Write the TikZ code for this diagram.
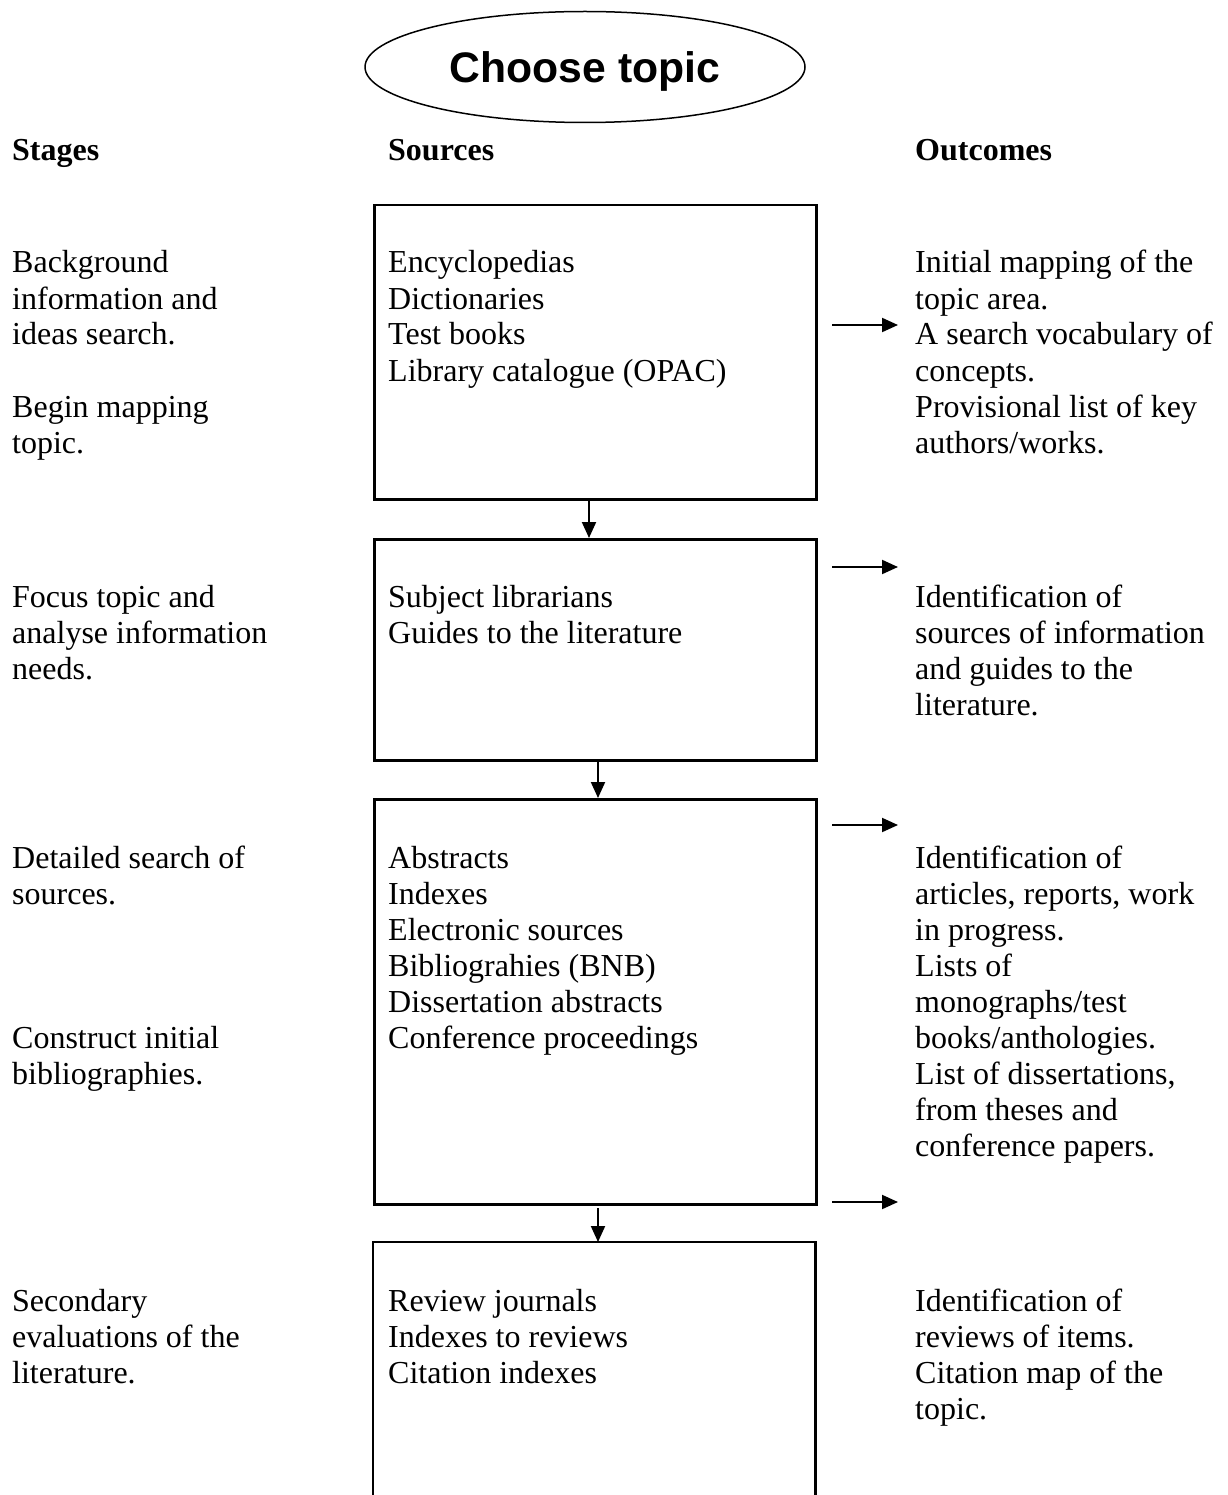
\documentclass[tikz,border=0pt]{standalone}
\usepackage{fontspec}
\setmainfont{Liberation Serif}
\newfontfamily\titlefont{Liberation Sans}
\usetikzlibrary{shapes.geometric,arrows.meta}
\newcommand\tx[1]{\begin{tabular}[t]{@{}l@{}}#1\end{tabular}}
\begin{document}
\begin{tikzpicture}[x=1pt,y=-1pt,
  txt/.style={anchor=base west,inner sep=0pt,yshift=-3pt,font=\fontsize{32pt}{36pt}\selectfont},
  hdr/.style={txt,font=\fontsize{32pt}{36pt}\selectfont\bfseries},
  srcbox/.style={draw,line width=2.5pt,rectangle,anchor=north west,inner sep=0pt,minimum width=442pt},
  arr/.style={line width=2pt,-{Triangle[length=16pt,width=14pt]}}
]
\useasboundingbox[fill=white] (0,0) rectangle (1227,1495);

% title
\node[ellipse,draw,line width=1.5pt,inner sep=0pt,minimum width=440pt,minimum height=111pt,
      text height=30.6pt,text depth=0pt,font=\titlefont\fontsize{42.7pt}{48pt}\selectfont\bfseries]
  (title) at (585,67) {Choose topic};

% headers
\node[hdr] (hstages) at (12,158) {Stages};
\node[hdr] (hsources) at (388,158) {Sources};
\node[hdr] (houtcomes) at (915,158) {Outcomes};

% boxes
\node[srcbox,minimum height=294pt] (b1) at (373,204) {};
\node[srcbox,minimum height=221pt] (b2) at (373,538) {};
\node[srcbox,minimum height=405pt] (b3) at (373,798) {};
\node[draw=none,rectangle,anchor=north west,inner sep=0pt,minimum width=442pt,minimum height=253pt] (b4) at (373,1242) {};
\draw[line width=2.5pt] (b4.south west) -- (b4.north west) -- (b4.north east) -- (b4.south east);

% down arrows
\coordinate (c1) at (589,0);
\coordinate (c2) at (598,0);
\coordinate (c3s) at (598,1208);
\draw[arr] (b1.south -| c1) -- (b2.north -| c1);
\draw[arr] (b2.south -| c2) -- (b3.north -| c2);
\draw[arr] (c3s) -- (b4.north -| c3s);

% right arrows
\coordinate (r1s) at (832,325); \coordinate (r1e) at (898,325);
\coordinate (r2s) at (832,567); \coordinate (r2e) at (898,567);
\coordinate (r3s) at (832,825); \coordinate (r3e) at (898,825);
\coordinate (r4s) at (832,1202); \coordinate (r4e) at (898,1202);
\draw[arr] (r1s) -- (r1e);
\draw[arr] (r2s) -- (r2e);
\draw[arr] (r3s) -- (r3e);
\draw[arr] (r4s) -- (r4e);

% stages
\node[txt] (s1) at (12,270) {\tx{Background\\information and\\ideas search.\\ \\Begin mapping\\topic.}};
\node[txt] (s2) at (12,604) {\tx{Focus topic and\\analyse information\\needs.}};
\node[txt] (s3) at (12,865) {\tx{Detailed search of\\sources.}};
\node[txt] (s3b) at (12,1045) {\tx{Construct initial\\bibliographies.}};
\node[txt] (s4) at (12,1308) {\tx{Secondary\\evaluations of the\\literature.}};

% sources
\node[txt] (q1) at (388,270) {\tx{Encyclopedias\\Dictionaries\\Test books\\Library catalogue (OPAC)}};
\node[txt] (q2) at (388,604) {\tx{Subject librarians\\Guides to the literature}};
\node[txt] (q3) at (388,865) {\tx{Abstracts\\Indexes\\Electronic sources\\Bibliograhies (BNB)\\Dissertation abstracts\\Conference proceedings}};
\node[txt] (q4) at (388,1308) {\tx{Review journals\\Indexes to reviews\\Citation indexes}};

% outcomes
\node[txt] (o1) at (915,270) {\tx{Initial mapping of the\\topic area.\\A search vocabulary of\\concepts.\\Provisional list of key\\authors/works.}};
\node[txt] (o2) at (915,604) {\tx{Identification of\\sources of information\\and guides to the\\literature.}};
\node[txt] (o3) at (915,865) {\tx{Identification of\\articles, reports, work\\in progress.\\Lists of\\monographs/test\\books/anthologies.\\List of dissertations,\\from theses and\\conference papers.}};
\node[txt] (o4) at (915,1308) {\tx{Identification of\\reviews of items.\\Citation map of the\\topic.}};
\end{tikzpicture}
\end{document}
